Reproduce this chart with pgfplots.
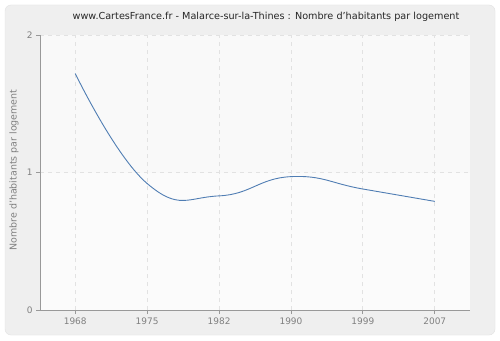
\documentclass[border=0pt]{standalone}
\usepackage{pgfplots}
\pgfplotsset{compat=1.18}
\usepackage{fontspec}
\setmainfont{DejaVu Sans}
\definecolor{bgpanel}{HTML}{EFEFEF}
\definecolor{panelborder}{HTML}{E2E2E2}
\definecolor{linecol}{HTML}{4F7DB3}
\definecolor{axiscol}{HTML}{999999}
\definecolor{tickcol}{HTML}{808080}
\definecolor{gridcol}{HTML}{E2E2E2}
\begin{document}
\begin{tikzpicture}[x=1bp,y=1bp]
\path[use as bounding box] (0,0) rectangle (500,340);
\fill[white] (0,0) rectangle (500,340);
\filldraw[fill=bgpanel, draw=panelborder, rounded corners=6bp] (5,5) rectangle (495,335);
\node[font=\fontsize{9.7}{11}\selectfont, text=black!85] at (266,323) {www.CartesFrance.fr - Malarce-sur-la-Thines : Nombre d'habitants par logement};
\node[font=\fontsize{9.5}{11}\selectfont, text=tickcol, rotate=90] at (14,170) {Nombre d'habitants par logement};
\begin{axis}[
  at={(40bp,30bp)}, anchor=south west,
  scale only axis, width=430bp, height=275bp,
  xmin=-0.49, xmax=5.49, ymin=0, ymax=2,
  xtick={0,1,2,3,4,5},
  xticklabels={1968,1975,1982,1990,1999,2007},
  ytick={0,1,2},
  axis x line*=bottom, axis y line*=left,
  axis line style={draw=axiscol, line width=0.8pt},
  x axis line style={-}, y axis line style={-},
  tick style={draw=axiscol, line width=0.8pt},
  tick align=outside, major tick length=4bp,
  tick label style={font=\fontsize{9}{10}\selectfont, text=tickcol},
  /pgf/number format/assume math mode=true,
  grid=major,
  major grid style={draw=gridcol, line width=0.8pt, dash pattern=on 4bp off 4bp},
  axis background/.style={fill=black!1.5, path picture={\fill[black!2.5] (path picture bounding box.north west) rectangle (path picture bounding box.east);}},
  clip=false,
]
\addplot[color=linecol, line width=0.9pt, smooth, tension=0.8] coordinates {
(0,1.72) (1,0.92) (2,0.83) (3,0.97) (4,0.88) (5,0.79)
};
\end{axis}
\end{tikzpicture}
\end{document}
